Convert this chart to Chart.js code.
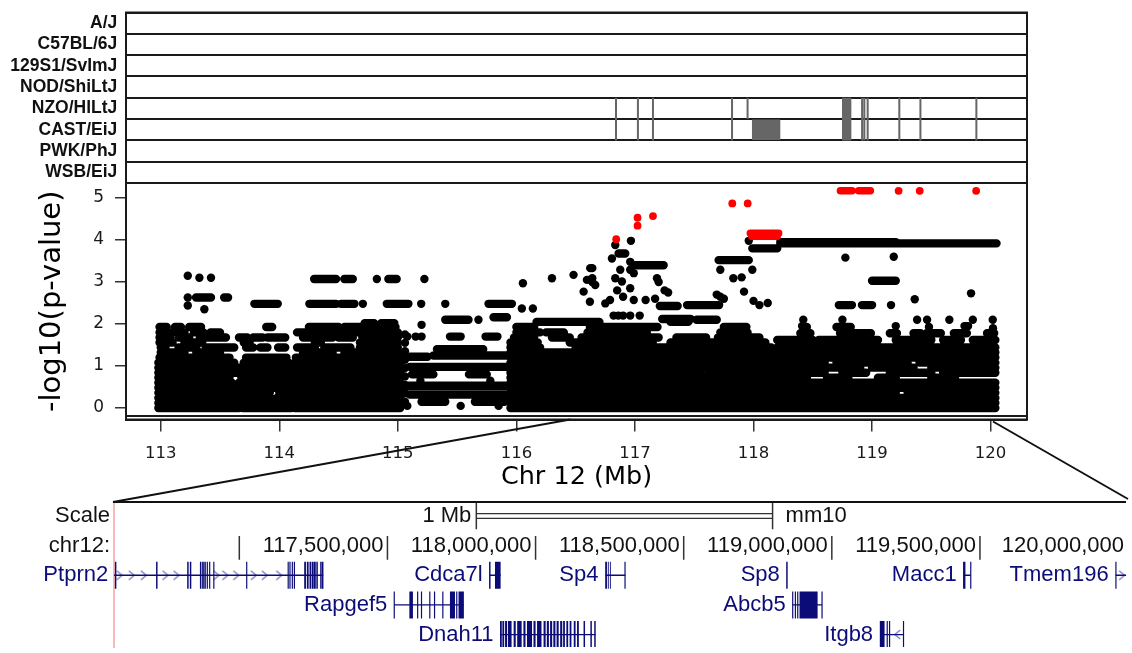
<!DOCTYPE html>
<html>
<head>
<meta charset="utf-8">
<title>Chr 12 association scan</title>
<script src="https://cdn.jsdelivr.net/npm/chart.js@4.4.1/dist/chart.umd.min.js"></script>
<style>
  body { margin: 0; background: #fff; }
  #wrap { position: relative; width: 1132px; height: 653px; }
  #wrap canvas { position: absolute; left: 0; top: 0; }
</style>
</head>
<body>
<div id="wrap">
  <canvas id="strainChart" width="1132" height="653"></canvas>
  <canvas id="pvalChart" width="1132" height="653"></canvas>
  <canvas id="geneChart" width="1132" height="653"></canvas>
</div>
<script>
// ---- strain panel ----
const strains = ['A/J', 'C57BL/6J', '129S1/SvImJ', 'NOD/ShiLtJ', 'NZO/HlLtJ', 'CAST/EiJ', 'PWK/PhJ', 'WSB/EiJ'];
const nzoLines = [116.840, 117.025, 117.152, 117.819, 117.950, 118.755, 118.770, 118.787, 118.804, 118.817, 118.916, 118.935, 118.963, 119.230, 119.408, 119.880];
const castLines = [116.840, 117.025, 117.152, 117.819, 118.755, 118.770, 118.787, 118.804, 118.817, 118.916, 118.935, 118.963, 119.230, 119.408, 119.880];
const castBlock = [117.987, 118.226];

// ---- association scan ----
const xTicks = [113, 114, 115, 116, 117, 118, 119, 120];
const yTicks = [0, 1, 2, 3, 4, 5];

// runs of overlapping SNPs: [from Mb, to Mb, -log10 p]
const blackRuns = [
  [112.98, 113.66, 0], [113.69, 114.10, 0], [114.13, 115.02, 0], [115.95, 120.04, 0],
  [112.98, 113.66, 0.12], [113.69, 114.10, 0.12], [114.13, 115.03, 0.12], [115.95, 118.55, 0.12], [118.6, 120.04, 0.12],
  [112.98, 113.65, 0.24], [113.69, 113.93, 0.24], [113.98, 114.10, 0.24], [114.13, 115.02, 0.24], [115.95, 117.4, 0.24], [117.45, 120.04, 0.24],
  [112.98, 113.64, 0.36], [113.69, 113.92, 0.36], [114.0, 114.10, 0.36], [114.13, 115.02, 0.36], [115.95, 119.2, 0.36], [119.3, 120.04, 0.36],
  [112.98, 113.66, 0.48], [113.69, 114.10, 0.48], [114.13, 115.02, 0.48], [115.95, 118.3, 0.48], [118.35, 120.04, 0.48],
  [112.98, 113.6, 0.6], [113.66, 114.10, 0.6], [114.13, 115.02, 0.6], [115.95, 120.04, 0.6],
  [112.98, 113.58, 0.72], [113.68, 114.10, 0.72], [114.13, 115.02, 0.72], [115.95, 118.25, 0.72], [118.3, 118.45, 0.72], [118.62, 118.8, 0.72], [119.05, 119.2, 0.72], [119.5, 119.7, 0.72],
  [112.98, 113.66, 0.84], [113.69, 114.10, 0.84], [114.13, 115.02, 0.84], [115.95, 117.55, 0.84], [117.62, 118.25, 0.84], [118.3, 118.6, 0.84], [118.75, 118.95, 0.84], [119.15, 119.5, 0.84], [119.6, 120.04, 0.84],
  [112.98, 113.66, 0.96], [113.69, 114.10, 0.96], [114.13, 115.02, 0.96], [115.95, 118.3, 0.96], [118.35, 118.9, 0.96], [119.0, 119.35, 0.96], [119.5, 119.85, 0.96], [119.9, 120.04, 0.96],
  [112.98, 113.62, 1.08], [113.7, 114.08, 1.08], [114.13, 115.02, 1.08], [115.95, 117.0, 1.08], [117.05, 118.2, 1.08], [118.25, 118.6, 1.08], [118.7, 119.3, 1.08], [119.4, 120.04, 1.08],
  [112.99, 113.58, 1.2], [113.72, 114.06, 1.2], [114.14, 115.0, 1.2], [115.95, 117.3, 1.2], [117.35, 120.04, 1.2],
  [113.0, 113.2, 1.32], [113.3, 113.5, 1.32], [114.2, 114.45, 1.32], [114.55, 115.0, 1.32], [115.95, 120.04, 1.32],
  [113.0, 113.04, 1.44], [113.15, 113.3, 1.44], [113.38, 113.62, 1.44], [113.72, 113.78, 1.44], [113.84, 113.9, 1.44], [113.99, 114.05, 1.44], [114.15, 114.3, 1.44], [114.38, 114.6, 1.44], [114.68, 115.0, 1.44], [115.95, 116.2, 1.44], [116.5, 118.15, 1.44], [118.2, 120.04, 1.44],
  [112.99, 113.1, 1.56], [113.2, 113.35, 1.56], [113.7, 113.75, 1.56], [114.3, 114.35, 1.56], [114.68, 115.0, 1.56], [115.95, 116.18, 1.56], [116.45, 117.15, 1.56], [117.3, 118.1, 1.56],
  [112.99, 113.08, 1.68], [113.15, 113.24, 1.68], [113.33, 113.55, 1.68], [113.66, 113.73, 1.68], [113.78, 113.86, 1.68], [113.9, 114.05, 1.68], [114.2, 114.45, 1.68], [114.5, 114.62, 1.68], [114.7, 115.0, 1.68], [115.98, 116.15, 1.68], [116.3, 116.45, 1.68], [116.55, 117.2, 1.68], [117.35, 117.6, 1.68], [117.7, 118.05, 1.68],
  [112.99, 113.08, 1.8], [113.13, 113.2, 1.8], [113.28, 113.36, 1.8], [113.42, 113.5, 1.8], [114.15, 114.4, 1.8], [114.45, 114.68, 1.8], [114.7, 115.0, 1.8], [116.0, 116.2, 1.8], [116.25, 116.4, 1.8], [116.6, 117.1, 1.8], [117.72, 117.95, 1.8],
  [112.99, 113.05, 1.93], [113.12, 113.17, 1.93], [113.24, 113.34, 1.93], [113.89, 113.94, 1.93], [114.25, 114.5, 1.93], [114.55, 114.68, 1.93], [114.7, 114.98, 1.93], [116.0, 116.15, 1.93], [116.62, 117.19, 1.93], [117.75, 117.94, 1.93], [118.7, 118.82, 1.93],
  [114.72, 114.8, 2.02], [114.86, 114.97, 2.02], [116.17, 116.7, 2.05], [117.3, 117.45, 2.05],
  // sparser stretch 115.05 - 115.95
  [115.05, 115.25, 1.22], [115.3, 115.95, 1.25], [115.33, 115.72, 1.40], [115.1, 115.95, 0.98], [115.05, 115.95, 0.53], [115.1, 115.92, 0.32], [115.44, 115.53, 1.7], [115.74, 115.84, 1.7],
  [115.12, 115.3, 0.8], [115.6, 115.75, 0.8], [115.2, 115.4, 0.15], [115.65, 115.9, 0.15],
  // right side, 118.2 - 120
  [118.395, 118.48, 1.78], [118.73, 118.99, 1.78], [119.15, 119.21, 1.78], [119.35, 119.41, 1.78], [119.46, 119.58, 1.78], [119.69, 119.8, 1.78], [119.97, 120.03, 1.78],
  [118.2, 118.5, 1.62], [118.55, 118.9, 1.62], [118.95, 119.05, 1.62], [119.2, 119.5, 1.62], [119.6, 119.75, 1.62], [119.85, 120.04, 1.62],
  [119.78, 119.81, 1.95],
  // upper levels
  [113.298, 113.424, 2.63], [113.535, 113.568, 2.63], [113.79, 113.987, 2.48],
  [114.294, 114.479, 3.07], [114.549, 114.62, 3.07], [114.92, 114.99, 3.07],
  [114.254, 114.479, 2.48], [114.521, 114.634, 2.48], [114.907, 115.089, 2.48], [115.765, 115.962, 2.48],
  [115.40, 115.596, 2.1], [115.807, 115.92, 2.16],
  [116.862, 116.918, 3.68], [117.003, 117.242, 3.40],
  [117.21, 117.36, 2.43], [117.44, 117.71, 2.45], [117.23, 117.47, 2.12], [117.52, 117.69, 2.1],
  [117.706, 117.96, 3.52], [117.99, 118.2, 3.80],
  [118.226, 120.05, 3.92], [118.226, 119.2, 3.95],
  [119.0, 119.2, 3.03], [118.72, 118.83, 2.45], [118.915, 119.0, 2.45]
];

const blackDots = [
  [113.228, 3.15], [113.326, 3.10], [113.424, 3.10], [113.228, 2.63], [113.228, 2.44], [113.368, 2.35],
  [114.705, 2.48], [114.823, 3.07], [115.224, 3.07], [115.197, 2.48], [115.40, 2.48], [115.68, 2.1],
  [115.06, 0.15], [115.06, 0.35], [115.06, 0.55], [115.06, 0.75], [115.06, 0.95], [115.06, 1.15], [115.06, 1.35], [115.06, 1.55], [115.06, 1.75],
  [115.08, 0.05], [115.53, 0.05], [115.85, 0.05], [115.19, 0.65], [115.78, 0.65], [115.2, 1.98], [115.08, 1.7], [115.15, 1.7], [115.2, 1.7],
  [116.055, 2.97], [116.30, 3.09], [116.482, 3.17], [116.623, 3.33], [116.595, 3.05], [116.64, 3.0], [116.567, 2.77], [116.62, 2.53], [116.046, 2.37], [116.139, 2.37],
  [116.966, 3.98], [116.834, 3.88], [116.806, 3.56], [116.96, 3.48], [117.186, 3.09], [117.20, 3.0],
  [116.876, 3.29], [116.834, 3.09], [116.89, 3.01], [116.96, 3.29], [116.99, 3.21], [116.64, 3.33], [116.64, 3.09], [116.665, 2.93],
  [117.25, 2.8], [117.28, 2.75], [116.85, 2.8], [116.9, 2.65], [116.96, 2.85], [116.99, 2.57], [116.79, 2.57], [116.75, 2.49], [117.09, 2.57], [117.17, 2.6],
  [116.82, 2.2], [116.86, 2.2], [116.9, 2.2], [116.96, 2.2], [117.04, 2.2],
  [117.69, 2.7], [117.72, 2.65], [117.75, 2.6], [117.92, 2.77], [118.0, 2.55], [118.05, 2.45], [118.12, 2.5],
  [117.72, 3.29], [117.83, 3.09], [117.9, 3.11], [117.99, 3.29], [117.96, 3.98],
  [118.42, 2.1], [118.45, 1.93], [118.775, 3.58], [119.183, 3.6], [119.16, 2.45], [119.36, 2.59], [119.835, 2.73],
  [118.75, 2.1], [119.38, 2.1], [119.464, 2.1], [119.652, 2.1], [119.85, 2.1], [120.018, 2.1],
  [118.41, 1.95], [119.2, 1.95], [119.48, 1.93], [120.02, 1.9]
];

const redRuns = [
  [117.973, 118.212, 4.16], [117.985, 118.2, 4.09], [118.733, 118.831, 5.17], [118.887, 118.986, 5.17]
];
const redDots = [
  [116.842, 4.02], [117.022, 4.53], [117.022, 4.34], [117.152, 4.57], [117.821, 4.87], [117.951, 4.87],
  [119.224, 5.17], [119.402, 5.17], [119.878, 5.17]
];

// ---- gene track (mm10) ----
const zoomSpan = [116.454, 120.02];
const trackLabels = ['Scale', 'chr12:'];
const scaleBar = [117.80, 118.80];
const coordTicks = [117.0, 117.5, 118.0, 118.5, 119.0, 119.5, 120.0];
const coordLabels = ['117,500,000', '118,000,000', '118,500,000', '119,000,000', '119,500,000', '120,000,000'];
const coordLabelAt = [117.5, 118.0, 118.5, 119.0, 119.5, 120.0];

const geneNames = ['Ptprn2', 'Cdca7l', 'Sp4', 'Sp8', 'Macc1', 'Tmem196', 'Rapgef5', 'Abcb5', 'Dnah11', 'Itgb8'];
const geneRows = [2, 2, 2, 2, 2, 2, 3, 3, 4, 4];
const geneStarts = [116.581, 117.845, 118.236, 118.848, 119.445, 119.958, 117.523, 118.868, 117.882, 119.163];

const introns = [
  [116.577, 117.283, 2], [117.845, 117.882, 2], [118.236, 118.303, 2], [119.445, 119.469, 2], [119.958, 120.05, 2],
  [117.523, 117.758, 3], [118.868, 118.967, 3],
  [117.882, 118.202, 4], [119.163, 119.242, 4]
];
const exons = [
  [116.580, 116.585, 2], [116.719, 116.724, 2], [116.824, 116.829, 2], [116.833, 116.838, 2], [116.867, 116.871, 2], [116.873, 116.877, 2],
  [116.878, 116.882, 2], [116.883, 116.887, 2], [116.890, 116.894, 2], [116.898, 116.902, 2], [116.912, 116.916, 2], [117.023, 117.027, 2],
  [117.163, 117.167, 2], [117.169, 117.173, 2], [117.177, 117.181, 2], [117.184, 117.188, 2], [117.219, 117.225, 2], [117.228, 117.234, 2],
  [117.237, 117.243, 2], [117.245, 117.251, 2], [117.252, 117.258, 2], [117.260, 117.265, 2], [117.273, 117.278, 2], [117.279, 117.284, 2],
  [117.843, 117.848, 2], [117.863, 117.882, 2],
  [118.235, 118.241, 2], [118.244, 118.247, 2], [118.251, 118.254, 2], [118.300, 118.304, 2],
  [118.846, 118.851, 2],
  [119.443, 119.451, 2], [119.467, 119.471, 2],
  [119.957, 119.961, 2],
  [117.521, 117.525, 3], [117.574, 117.586, 3], [117.600, 117.604, 3], [117.613, 117.617, 3], [117.641, 117.645, 3], [117.657, 117.661, 3],
  [117.685, 117.689, 3], [117.711, 117.728, 3], [117.732, 117.736, 3], [117.740, 117.758, 3],
  [118.866, 118.870, 3], [118.875, 118.879, 3], [118.883, 118.887, 3], [118.891, 118.952, 3], [118.965, 118.969, 3],
  [117.880, 117.886, 4], [117.888, 117.894, 4], [117.897, 117.904, 4], [117.907, 117.919, 4], [117.926, 117.933, 4], [117.938, 117.953, 4],
  [117.959, 117.966, 4], [117.971, 117.988, 4], [117.993, 118.000, 4], [118.005, 118.020, 4], [118.027, 118.034, 4], [118.038, 118.045, 4],
  [118.049, 118.056, 4], [118.060, 118.067, 4], [118.071, 118.078, 4], [118.083, 118.090, 4], [118.093, 118.099, 4], [118.104, 118.110, 4],
  [118.115, 118.121, 4], [118.129, 118.135, 4], [118.140, 118.146, 4], [118.162, 118.167, 4], [118.185, 118.190, 4], [118.198, 118.203, 4],
  [119.162, 119.178, 4], [119.185, 119.189, 4], [119.193, 119.197, 4], [119.240, 119.244, 4]
];
const chevronsRight = [
  [116.596, 2], [116.637, 2], [116.678, 2], [116.751, 2], [116.788, 2], [116.923, 2], [116.953, 2], [116.990, 2],
  [117.049, 2], [117.086, 2], [117.135, 2], [119.980, 2]
];
const chevronsLeft = [[119.221, 4]];

const navy = '#0c0c78';
Chart.defaults.font.family = "'DejaVu Sans', sans-serif";

function runsToPoints(runs) {
  const pts = [];
  runs.forEach(([a, b, v]) => pts.push({x: a, y: v}, {x: b, y: v}, {x: b, y: null}));
  return pts;
}
function vsegsToPoints(list, y0, y1) {
  const pts = [];
  list.forEach(x => pts.push({x: x, y: y0}, {x: x, y: y1}, {x: x, y: null}));
  return pts;
}

const frame = {
  id: 'frame',
  afterDraw(chart, args, opts) {
    const {ctx, chartArea: a} = chart;
    ctx.save();
    ctx.strokeStyle = '#1a1a1a';
    ctx.lineWidth = 2;
    ctx.strokeRect(a.left, a.top, a.right - a.left, a.bottom - a.top);
    if (opts.inner) {
      ctx.beginPath();
      ctx.moveTo(a.left, a.bottom - 3.5);
      ctx.lineTo(a.right, a.bottom - 3.5);
      ctx.stroke();
    }
    ctx.restore();
  }
};

// strain haplotype panel
new Chart(document.getElementById('strainChart'), {
  type: 'scatter',
  data: {
    datasets: [
      {data: vsegsToPoints(nzoLines, 4, 5), showLine: true, borderColor: '#666', borderWidth: 2, pointRadius: 0},
      {data: vsegsToPoints(castLines, 5, 6), showLine: true, borderColor: '#666', borderWidth: 2, pointRadius: 0},
      {data: [{x: castBlock[0], y: 5.5}, {x: castBlock[1], y: 5.5}], showLine: true, borderColor: '#666', borderWidth: 20.5, borderCapStyle: 'butt', pointRadius: 0}
    ]
  },
  options: {
    responsive: false, animation: false, events: [],
    layout: {padding: {top: 12.5, right: 105, bottom: 470, left: 0}},
    plugins: {legend: {display: false}, tooltip: {enabled: false}, frame: {inner: false}},
    scales: {
      x: {type: 'linear', display: false, min: 112.707, max: 120.307},
      y: {
        type: 'linear', min: 0, max: 8, reverse: true,
        afterBuildTicks: s => { s.ticks = [0, 1, 2, 3, 4, 5, 6, 7, 8].map(v => ({value: v})); },
        afterFit: s => { s.width = 126; s.paddingTop = 0; s.paddingBottom = 0; },
        ticks: {
          callback: v => strains[v] ?? '', labelOffset: 10.66, padding: 8.7, autoSkip: false,
          font: {family: "'Liberation Sans', Arial, sans-serif", size: 17.5, weight: 'bold'}, color: '#111'
        },
        grid: {color: '#1a1a1a', lineWidth: 2, drawTicks: false},
        border: {color: '#1a1a1a', width: 2}
      }
    }
  },
  plugins: [frame]
});

// -log10(p) scan
const pvalChart = new Chart(document.getElementById('pvalChart'), {
  type: 'scatter',
  data: {
    datasets: [
      {label: 'top runs', data: runsToPoints(redRuns), showLine: true, borderColor: '#ff0000', borderWidth: 7.5, borderCapStyle: 'round', pointRadius: 0, spanGaps: false},
      {label: 'top SNPs', data: redDots.map(([x, y]) => ({x, y})), backgroundColor: '#ff0000', pointRadius: 3.9, borderWidth: 0},
      {label: 'SNPs', data: blackDots.map(([x, y]) => ({x, y})), backgroundColor: '#000', pointRadius: 4.2, borderWidth: 0},
      {label: 'SNP runs', data: runsToPoints(blackRuns), showLine: true, borderColor: '#000', borderWidth: 8.4, borderCapStyle: 'round', pointRadius: 0, spanGaps: false}
    ]
  },
  options: {
    responsive: false, animation: false, events: [],
    layout: {padding: {top: 183, right: 105, bottom: 653 - 419.5 - 73, left: 0}},
    plugins: {legend: {display: false}, tooltip: {enabled: false}, frame: {inner: true}},
    scales: {
      x: {
        type: 'linear', min: 112.707, max: 120.307,
        afterBuildTicks: s => { s.ticks = xTicks.map(v => ({value: v})); },
        afterFit: s => { s.height = 73; s.paddingLeft = 0; s.paddingRight = 0; },
        ticks: {font: {size: 16.5}, color: '#1a1a1a', padding: 12.5, autoSkip: false, maxRotation: 0},
        grid: {drawOnChartArea: false, tickLength: 12, color: '#333', lineWidth: 1.5},
        border: {color: '#1a1a1a', width: 2},
        title: {display: true, text: 'Chr 12 (Mb)', font: {size: 25.5}, color: '#000', padding: {top: 0, bottom: 0}}
      },
      y: {
        type: 'linear', min: -0.274, max: 5.357,
        afterBuildTicks: s => { s.ticks = yTicks.map(v => ({value: v})); },
        afterFit: s => { s.width = 126; s.paddingTop = 0; s.paddingBottom = 0; },
        ticks: {font: {size: 17}, color: '#1a1a1a', padding: 11, autoSkip: false},
        grid: {drawOnChartArea: false, tickLength: 11, color: '#333', lineWidth: 1.5},
        border: {color: '#1a1a1a', width: 2},
        title: {display: true, text: '-log10(p-value)', font: {size: 29}, color: '#000', padding: {top: 35, bottom: 0}}
      }
    }
  },
  plugins: [frame]
});

// chevron glyphs for strand direction
const chev = document.createElement('canvas');
chev.width = 8; chev.height = 11;
const cctx = chev.getContext('2d');
cctx.strokeStyle = '#7474b8';
cctx.lineWidth = 1.2;
cctx.beginPath();
cctx.moveTo(1, 1); cctx.lineTo(6.5, 5.5); cctx.lineTo(1, 10);
cctx.stroke();

const trackText = {
  id: 'trackText',
  afterDraw(chart) {
    const {ctx, chartArea: a, scales: {x, y}} = chart;
    ctx.save();
    // zoom connector lines
    const sx = pvalChart.scales.x;
    const top = pvalChart.chartArea.bottom;
    ctx.strokeStyle = '#111';
    ctx.lineWidth = 2;
    ctx.beginPath();
    ctx.moveTo(sx.getPixelForValue(zoomSpan[0]), top);
    ctx.lineTo(a.left - 1, a.top);
    ctx.lineTo(a.right, a.top);
    ctx.moveTo(sx.getPixelForValue(zoomSpan[1]), top + 2);
    ctx.lineTo(a.right + 2, a.top - 3);
    ctx.stroke();

    ctx.font = "22px 'Liberation Sans', Arial, sans-serif";
    ctx.textBaseline = 'middle';
    ctx.fillStyle = '#111';
    ctx.textAlign = 'right';
    ctx.fillText('1 Mb', x.getPixelForValue(scaleBar[0]) - 5, y.getPixelForValue(0));
    ctx.textAlign = 'left';
    ctx.fillText('mm10', x.getPixelForValue(scaleBar[1]) + 13, y.getPixelForValue(0));
    ctx.textAlign = 'right';
    coordLabels.forEach((t, i) => {
      ctx.fillText(t, Math.min(x.getPixelForValue(coordLabelAt[i]) - 4, a.right - 2), y.getPixelForValue(1));
    });
    ctx.fillStyle = navy;
    geneNames.forEach((n, i) => {
      ctx.fillText(n, x.getPixelForValue(geneStarts[i]) - 7, y.getPixelForValue(geneRows[i]));
    });
    ctx.restore();
  }
};

new Chart(document.getElementById('geneChart'), {
  type: 'scatter',
  data: {
    datasets: [
      {data: exons.map(([a, b, r]) => [{x: a, y: r}, {x: b, y: r}, {x: b, y: null}]).flat(), showLine: true, borderColor: navy, borderWidth: 27, borderCapStyle: 'butt', pointRadius: 0},
      {data: runsToPoints(introns), showLine: true, borderColor: navy, borderWidth: 1.3, pointRadius: 0},
      {data: chevronsRight.map(([x, y]) => ({x, y})), pointStyle: chev, pointRadius: 5},
      {data: chevronsLeft.map(([x, y]) => ({x, y})), pointStyle: chev, rotation: 180, pointRadius: 5},
      {data: runsToPoints([[scaleBar[0], scaleBar[1], -0.08], [scaleBar[0], scaleBar[1], 0.08]]), showLine: true, borderColor: '#333', borderWidth: 1.2, pointRadius: 0},
      {data: vsegsToPoints(scaleBar, -0.47, 0.45), showLine: true, borderColor: '#333', borderWidth: 1.5, pointRadius: 0},
      {data: vsegsToPoints(coordTicks, 0.68, 1.48), showLine: true, borderColor: '#333', borderWidth: 1.5, pointRadius: 0}
    ]
  },
  options: {
    responsive: false, animation: false, events: [],
    layout: {padding: {top: 502, right: 0, bottom: 0, left: 0}},
    plugins: {legend: {display: false}, tooltip: {enabled: false}},
    scales: {
      x: {type: 'linear', display: false, min: 116.577, max: 119.993},
      y: {
        type: 'linear', min: -0.469, max: 4.417, reverse: true,
        afterBuildTicks: s => { s.ticks = [0, 1].map(v => ({value: v})); },
        afterFit: s => { s.width = 114; s.paddingTop = 0; s.paddingBottom = 0; },
        ticks: {callback: v => trackLabels[v] ?? '', padding: 4, autoSkip: false, color: '#111',
          font: {family: "'Liberation Sans', Arial, sans-serif", size: 22}},
        grid: {display: false, drawTicks: false},
        border: {display: true, color: '#f6b8b8', width: 2}
      }
    }
  },
  plugins: [trackText]
});
</script>
</body>
</html>
